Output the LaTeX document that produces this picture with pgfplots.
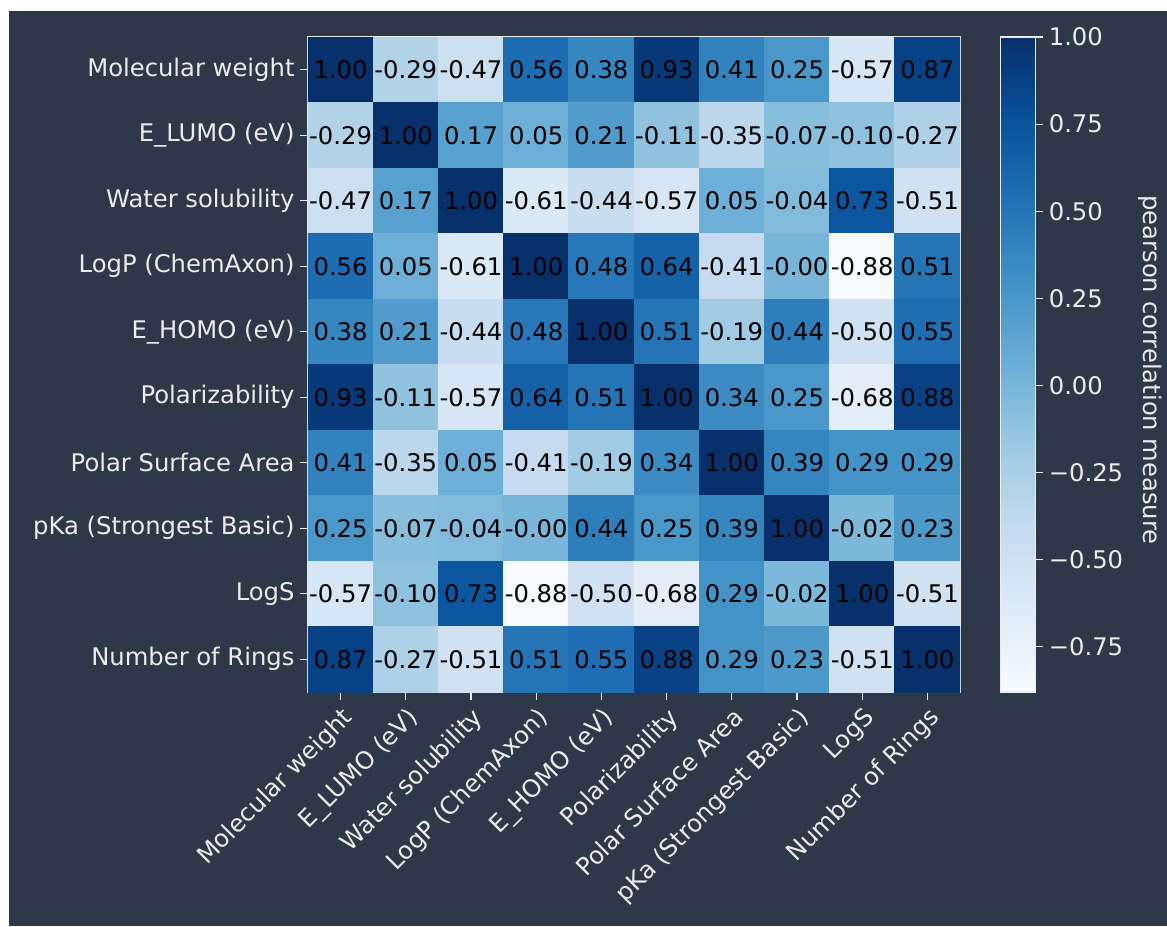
\documentclass[border=0pt]{standalone}
\usepackage{pgfplots}
\usepackage{pgfplotstable}
\pgfplotsset{compat=1.18}
\usepackage{fontspec}
\setmainfont{DejaVu Sans}
\definecolor{bgcol}{RGB}{46,56,73}
\definecolor{fgcol}{RGB}{236,236,236}
\pgfplotstableread{
x y z
0 0 1.00
1 0 -0.29
2 0 -0.47
3 0 0.56
4 0 0.38
5 0 0.93
6 0 0.41
7 0 0.25
8 0 -0.57
9 0 0.87
0 1 -0.29
1 1 1.00
2 1 0.17
3 1 0.05
4 1 0.21
5 1 -0.11
6 1 -0.35
7 1 -0.07
8 1 -0.10
9 1 -0.27
0 2 -0.47
1 2 0.17
2 2 1.00
3 2 -0.61
4 2 -0.44
5 2 -0.57
6 2 0.05
7 2 -0.04
8 2 0.73
9 2 -0.51
0 3 0.56
1 3 0.05
2 3 -0.61
3 3 1.00
4 3 0.48
5 3 0.64
6 3 -0.41
7 3 -0.00
8 3 -0.88
9 3 0.51
0 4 0.38
1 4 0.21
2 4 -0.44
3 4 0.48
4 4 1.00
5 4 0.51
6 4 -0.19
7 4 0.44
8 4 -0.50
9 4 0.55
0 5 0.93
1 5 -0.11
2 5 -0.57
3 5 0.64
4 5 0.51
5 5 1.00
6 5 0.34
7 5 0.25
8 5 -0.68
9 5 0.88
0 6 0.41
1 6 -0.35
2 6 0.05
3 6 -0.41
4 6 -0.19
5 6 0.34
6 6 1.00
7 6 0.39
8 6 0.29
9 6 0.29
0 7 0.25
1 7 -0.07
2 7 -0.04
3 7 -0.00
4 7 0.44
5 7 0.25
6 7 0.39
7 7 1.00
8 7 -0.02
9 7 0.23
0 8 -0.57
1 8 -0.10
2 8 0.73
3 8 -0.88
4 8 -0.50
5 8 -0.68
6 8 0.29
7 8 -0.02
8 8 1.00
9 8 -0.51
0 9 0.87
1 9 -0.27
2 9 -0.51
3 9 0.51
4 9 0.55
5 9 0.88
6 9 0.29
7 9 0.23
8 9 -0.51
9 9 1.00
}\corr
\begin{document}
\begin{tikzpicture}
\useasboundingbox (0,0) rectangle (466.8pt,-370.4pt);
\fill[bgcol] (3.6pt,-4.4pt) rectangle (466.8pt,-370.4pt);
\begin{axis}[
  at={(123.2pt,-276.8pt)}, anchor=south west,
  scale only axis, width=260.8pt, height=262pt,
  xmin=-0.5, xmax=9.5, ymin=-0.5, ymax=9.5,
  enlargelimits=false, y dir=reverse,
  axis line style={fgcol, line width=0.6pt},
  tick style={fgcol, line width=0.5pt},
  tick align=outside, major tick length=3.2pt,
  xtick pos=bottom, ytick pos=left,
  xtick={0,...,9}, ytick={0,...,9},
  xticklabels={Molecular weight, E\_LUMO (eV), Water solubility, LogP (ChemAxon), E\_HOMO (eV), Polarizability, Polar Surface Area, pKa (Strongest Basic), LogS, Number of Rings},
  yticklabels={Molecular weight, E\_LUMO (eV), Water solubility, LogP (ChemAxon), E\_HOMO (eV), Polarizability, Polar Surface Area, pKa (Strongest Basic), LogS, Number of Rings},
  ticklabel style={font=\fontsize{9.7}{11}\selectfont, text=fgcol},
  xticklabel style={rotate=45, anchor=north east, inner sep=1.5pt},
  yticklabel style={inner sep=2pt},
  colormap={blues}{rgb255=(247,251,255) rgb255=(222,235,247) rgb255=(198,219,239) rgb255=(158,202,225) rgb255=(107,174,214) rgb255=(66,146,198) rgb255=(33,113,181) rgb255=(8,81,156) rgb255=(8,48,107)},
  point meta min=-0.88, point meta max=1.00,
  colorbar,
  colorbar style={
    at={(parent axis.north east)}, anchor=north west, xshift=7.6pt,
    scale only axis, width=14pt, height=262pt,
    axis line style={fgcol, line width=0.6pt},
    tick style={fgcol, line width=0.5pt},
    tick align=outside, major tick length=3.2pt,
    ytick pos=right, yticklabel pos=right,
    ytick={-0.75,-0.5,-0.25,0,0.25,0.5,0.75,1},
    yticklabels={{−0.75},{−0.50},{−0.25},{0.00},{0.25},{0.50},{0.75},{1.00}},
    yticklabel style={font=\fontsize{9.7}{11}\selectfont, text=fgcol, inner sep=2pt},
  },
]
\addplot[matrix plot*, mesh/cols=10, mesh/ordering=x varies, point meta=explicit] table[x=x, y=y, meta=z] {\corr};
\addplot[only marks, mark=none, point meta=explicit symbolic,
  nodes near coords, nodes near coords align={center},
  every node near coord/.append style={anchor=center, text=black, font=\fontsize{9.7}{11}\selectfont, inner sep=0pt}]
  table[x=x, y=y, meta=z] {\corr};
\end{axis}
\node[rotate=-90, text=fgcol, font=\fontsize{9.7}{11}\selectfont] at (460pt,-148pt) {pearson correlation measure};
\end{tikzpicture}
\end{document}
